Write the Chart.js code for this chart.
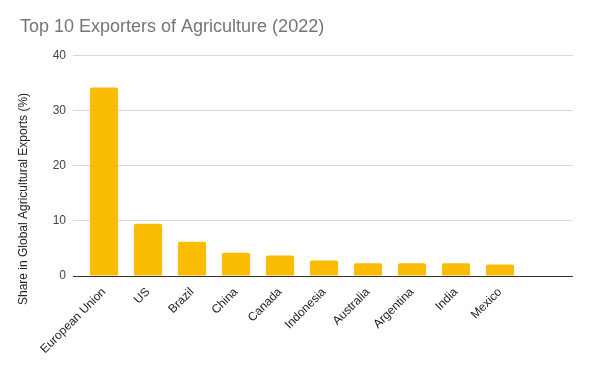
<!DOCTYPE html>
<html>
<head>
<meta charset="utf-8">
<script src="https://cdn.jsdelivr.net/npm/chart.js@4/dist/chart.umd.min.js"></script>
<style>
  html, body { margin: 0; padding: 0; background: #fff; }
  #wrap { width: 592px; height: 366px; }
</style>
</head>
<body>
<div id="wrap"><canvas id="c" width="592" height="366"></canvas></div>
<script>
const categories = ["European Union", "US", "Brazil", "China", "Canada", "Indonesia", "Australia", "Argentina", "India", "Mexico", ""];
const shares = [34.2, 9.5, 6.2, 4.2, 3.7, 2.8, 2.3, 2.3, 2.3, 2.1, null];
const yTicks = [0, 10, 20, 30, 40];
const yTitle = 'Share in Global Agricultural Exports (%)';

const FONT = "'Liberation Sans', Arial, sans-serif";

function align(p) { return Math.round(p - 0.5) + 0.5; }

const extras = {
  id: 'extras',
  beforeDatasetsDraw(chart) {
    const y = chart.scales.y;
    const ctx = chart.ctx;
    const area = chart.chartArea;
    ctx.save();
    yTicks.forEach(v => {
      const py = align(y.getPixelForValue(v));
      ctx.beginPath();
      ctx.strokeStyle = v === 0 ? '#333333' : '#d9d9d9';
      ctx.lineWidth = 1;
      ctx.moveTo(area.right, py);
      ctx.lineTo(area.right + 7, py);
      ctx.stroke();
    });
    ctx.restore();
  },
  afterDraw(chart) {
    const ctx = chart.ctx;
    const y = chart.scales.y;
    ctx.save();
    ctx.translate(24, y.getPixelForValue(0) - 77);
    ctx.rotate(-Math.PI / 2);
    ctx.font = "12px " + FONT;
    ctx.fillStyle = '#222222';
    ctx.textAlign = 'center';
    ctx.textBaseline = 'middle';
    ctx.fillText(yTitle, 0, 0);
    ctx.restore();
  }
};

new Chart(document.getElementById('c'), {
  type: 'bar',
  data: {
    labels: categories,
    datasets: [{
      data: shares,
      backgroundColor: '#fbbc04',
      borderRadius: 2,
      borderSkipped: 'bottom',
      barPercentage: 0.64,
      categoryPercentage: 1.0
    }]
  },
  options: {
    responsive: false,
    animation: false,
    layout: { padding: { left: 20, right: 26, top: 0, bottom: 0 } },
    plugins: {
      legend: { display: false },
      tooltip: { enabled: false },
      title: {
        display: true,
        text: 'Top 10 Exporters of Agriculture (2022)',
        align: 'start',
        color: '#757575',
        font: { family: FONT, size: 18, weight: 'normal' },
        padding: { top: 16, bottom: 18 }
      }
    },
    scales: {
      x: {
        grid: { display: false, drawTicks: false },
        border: { display: false },
        ticks: {
          color: '#222222',
          font: { family: FONT, size: 12 },
          maxRotation: 45,
          minRotation: 45,
          autoSkip: false,
          padding: 9
        },
        afterFit(scale) { scale.height = 90; }
      },
      y: {
        min: 0,
        max: 40,
        afterBuildTicks(scale) { scale.ticks = yTicks.map(v => ({ value: v })); },
        grid: {
          color: ctx => ctx.tick && ctx.tick.value === 0 ? '#333333' : '#d9d9d9',
          drawTicks: true,
          tickLength: 9,
          lineWidth: 1
        },
        border: { display: false },
        ticks: {
          color: '#444444',
          font: { family: FONT, size: 12 },
          padding: 7
        },
        afterFit(scale) { scale.width = 62; }
      }
    }
  },
  plugins: [extras]
});
</script>
</body>
</html>
